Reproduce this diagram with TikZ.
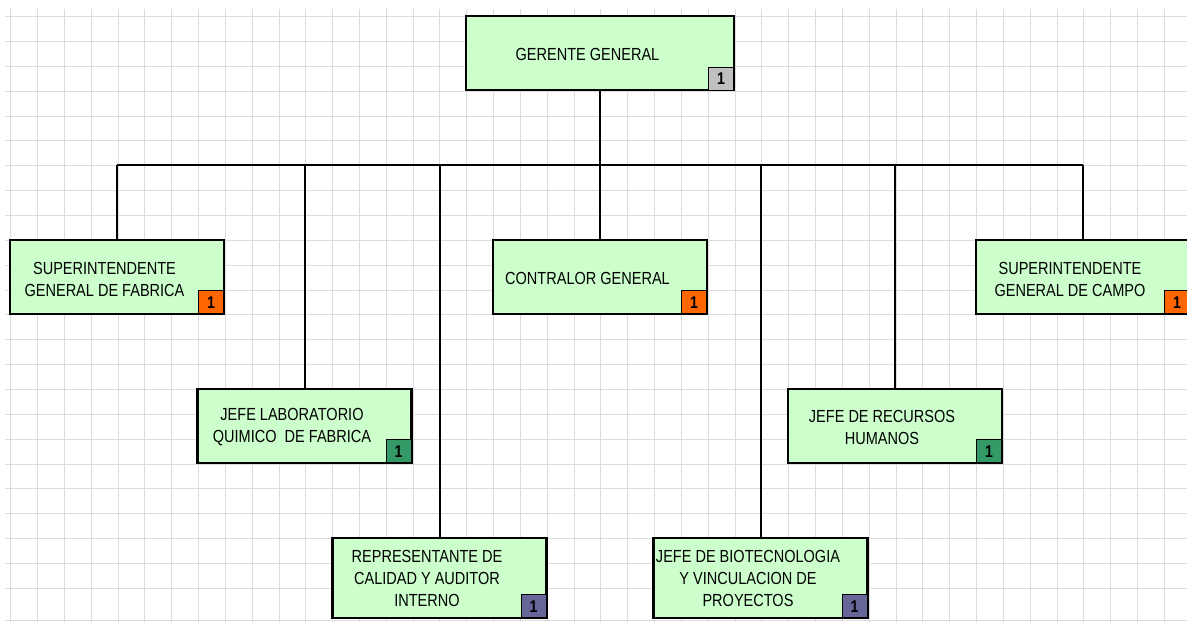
\documentclass[tikz,border=0pt]{standalone}
\usepackage{fontspec}
\setmainfont{Liberation Sans}[FakeStretch=0.83]

\definecolor{boxgreen}{HTML}{CCFFCC}
\definecolor{gridgray}{HTML}{DCDCDC}
\definecolor{numgray}{HTML}{C0C0C0}
\definecolor{numorange}{HTML}{FF6600}
\definecolor{numgreen}{HTML}{339966}
\definecolor{numblue}{HTML}{666699}

\tikzset{
  post/.style={draw, line width=2.3pt, fill=boxgreen, minimum width=214pt,
    minimum height=74pt, inner sep=0pt},
  posttext/.style={align=center, inner sep=0pt,
    font=\fontsize{17.5}{22}\selectfont},
  numbox/.style={draw, line width=0.8pt, minimum width=25pt, minimum height=23pt,
    inner sep=0pt, anchor=south east, font=\fontsize{17}{17}\selectfont\bfseries},
  link/.style={line width=2pt},
}

\begin{document}
\begin{tikzpicture}[x=1pt, y=-1pt]
\clip (0,0) rectangle (1187,622);
\fill[white] (0,0) rectangle (1187,622);

% ----------------------------------------------------------
% Sheet grid
% ----------------------------------------------------------
\foreach \k in {0,...,43} {
    \draw[gridgray, line width=1pt] ({10.7+26.83*\k},9) -- ({10.7+26.83*\k},622);
}
\foreach \k in {0,...,23} {
    \draw[gridgray, line width=1pt] (5,{16.7+24.85*\k}) -- (1187,{16.7+24.85*\k});
}
\draw[gridgray, line width=1pt] (5,620) -- (1187,620);

% ----------------------------------------------------------
% Top
% ----------------------------------------------------------
\node[post, minimum width=268pt] (gg) at (600,53.3) {};
\node[posttext] (gg-t) at ([xshift=-12.5pt, yshift=-1pt]gg.center) {GERENTE GENERAL};
\node[numbox, fill=numgray] (gg-n) at ([xshift=-1.1pt, yshift=1.1pt]gg.south east) {1};

% ----------------------------------------------------------
% Second row
% ----------------------------------------------------------
\node[post] (sf) at (117,277) {};
\node[posttext] (sf-t) at ([xshift=-12.5pt, yshift=-2pt]sf.center) {SUPERINTENDENTE\\GENERAL DE FABRICA};
\node[numbox, fill=numorange] (sf-n) at ([xshift=-1.1pt, yshift=1.1pt]sf.south east) {1};

\node[post] (cg) at (600,277) {};
\node[posttext] (cg-t) at ([xshift=-12.5pt, yshift=-1pt]cg.center) {CONTRALOR GENERAL};
\node[numbox, fill=numorange] (cg-n) at ([xshift=-1.1pt, yshift=1.1pt]cg.south east) {1};

\node[post] (sc) at (1083,277) {};
\node[posttext] (sc-t) at ([xshift=-13pt, yshift=-2pt]sc.center) {SUPERINTENDENTE\\GENERAL DE CAMPO};
\node[numbox, fill=numorange] (sc-n) at ([xshift=-1.1pt, yshift=1.1pt]sc.south east) {1};

% ----------------------------------------------------------
% Third row
% ----------------------------------------------------------
\node[post] (jl) at (304.5,426) {};
\node[posttext] (jl-t) at ([xshift=-12.5pt, yshift=-1pt]jl.center) {JEFE LABORATORIO\\QUIMICO\ \ DE FABRICA};
\node[numbox, fill=numgreen] (jl-n) at ([xshift=-1.1pt, yshift=1.1pt]jl.south east) {1};

\node[post] (rh) at (895,426) {};
\node[posttext] (rh-t) at ([xshift=-13pt, yshift=-1pt]rh.center) {JEFE DE RECURSOS\\HUMANOS};
\node[numbox, fill=numgreen] (rh-n) at ([xshift=-1.1pt, yshift=1.1pt]rh.south east) {1};

% ----------------------------------------------------------
% Bottom row
% ----------------------------------------------------------
\node[post, minimum height=80pt] (rp) at (439.5,578) {};
\node[posttext] (rp-t) at ([xshift=-12.5pt, yshift=-0.5pt]rp.center) {REPRESENTANTE DE\\CALIDAD Y AUDITOR\\INTERNO};
\node[numbox, fill=numblue] (rp-n) at ([xshift=-1.1pt, yshift=1.1pt]rp.south east) {1};

\node[post, minimum height=80pt] (bt) at (760.5,578) {};
\node[posttext] (bt-t) at ([xshift=-12.5pt, yshift=-0.5pt]bt.center) {JEFE DE BIOTECNOLOGIA\\Y VINCULACION DE\\PROYECTOS};
\node[numbox, fill=numblue] (bt-n) at ([xshift=-1.1pt, yshift=1.1pt]bt.south east) {1};

% ----------------------------------------------------------
% Connectors
% ----------------------------------------------------------
\coordinate (bus) at (600,165);
\draw[link] (gg.south) -- (bus);
\draw[link] (sf.north |- bus) -- (sc.north |- bus);
\foreach \b in {sf,jl,rp,cg,bt,rh,sc} {
    \draw[link] (\b.north) -- (\b.north |- bus);
}

\end{tikzpicture}
\end{document}
